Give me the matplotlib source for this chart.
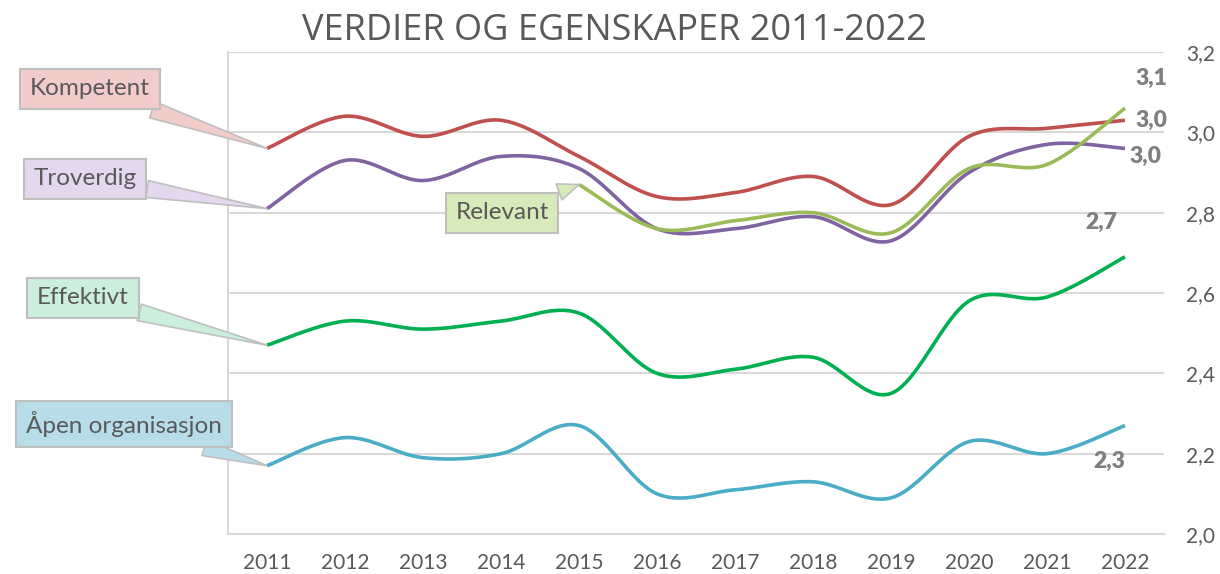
import numpy as np
import matplotlib
matplotlib.use("Agg")
import matplotlib.pyplot as plt

plt.rcParams['font.family'] = ['Lato', 'DejaVu Sans']

# Data
years = ["2011", "2012", "2013", "2014", "2015", "2016",
         "2017", "2018", "2019", "2020", "2021", "2022"]
kompetent = [2.96, 3.04, 2.99, 3.03, 2.94, 2.84, 2.85, 2.89, 2.82, 2.99, 3.01, 3.03]
troverdig = [2.81, 2.93, 2.88, 2.94, 2.91, 2.76, 2.76, 2.79, 2.73, 2.90, 2.97, 2.96]
relevant = [np.nan, np.nan, np.nan, np.nan, 2.87, 2.76, 2.78, 2.80, 2.75, 2.91, 2.92, 3.06]
effektivt = [2.47, 2.53, 2.51, 2.53, 2.55, 2.40, 2.41, 2.44, 2.35, 2.58, 2.59, 2.69]
apen = [2.17, 2.24, 2.19, 2.20, 2.27, 2.10, 2.11, 2.13, 2.09, 2.23, 2.20, 2.27]

names = ["Kompetent", "Troverdig", "Relevant", "Effektivt", "Åpen organisasjon"]
series = [kompetent, troverdig, relevant, effektivt, apen]
colors = ["#C0504D", "#8064A2", "#9BBB59", "#00B050", "#4BACC6"]
box_colors = ["#F2CBCB", "#E4D8EE", "#D7EAB9", "#CCEEDC", "#B7DEE8"]


def smooth(x, y, n=30):
    # Excel-style smoothed line: cubic Bezier with Catmull-Rom control points
    x = np.asarray(x, float)
    y = np.asarray(y, float)
    px = np.concatenate([[x[0]], x, [x[-1]]])
    py = np.concatenate([[y[0]], y, [y[-1]]])
    t = np.linspace(0, 1, n)
    xs, ys = [], []
    for i in range(1, len(px) - 2):
        p0 = np.array([px[i], py[i]])
        p3 = np.array([px[i + 1], py[i + 1]])
        c1 = p0 + (p3 - np.array([px[i - 1], py[i - 1]])) / 6
        c2 = p3 - (np.array([px[i + 2], py[i + 2]]) - p0) / 6
        b = ((1 - t) ** 3)[:, None] * p0 + (3 * (1 - t) ** 2 * t)[:, None] * c1 \
            + (3 * (1 - t) * t ** 2)[:, None] * c2 + (t ** 3)[:, None] * p3
        xs.append(b[:, 0])
        ys.append(b[:, 1])
    return np.concatenate(xs), np.concatenate(ys)


fig = plt.figure(figsize=(12.2, 5.74), dpi=100)
ax = fig.add_axes([228 / 1220, 1 - 534 / 574, (1164 - 228) / 1220, (534 - 52) / 574])

xi = np.arange(len(years))
for vals, c in zip(series, colors):
    v = np.array(vals, float)
    ok = ~np.isnan(v)
    sx, sy = smooth(xi[ok], v[ok])
    ax.plot(sx, sy, color=c, lw=2.6, solid_capstyle='butt', zorder=3)

ax.set_xlim(-0.5, 11.5)
ax.set_ylim(2.0, 3.2)
ax.set_yticks(np.arange(2.0, 3.21, 0.2))
ax.set_yticklabels([f"{v:.1f}".replace('.', ',') for v in np.arange(2.0, 3.21, 0.2)])
ax.yaxis.tick_right()
ax.set_xticks(xi)
ax.set_xticklabels(years)
ax.tick_params(axis='y', length=0, pad=16, labelsize=15, labelcolor='#595959')
ax.tick_params(axis='x', length=0, pad=14, labelsize=15, labelcolor='#595959')
ax.grid(axis='y', color='#D9D9D9', lw=1.5)
ax.set_axisbelow(True)
for s in ['top', 'right']:
    ax.spines[s].set_visible(False)
ax.spines['left'].set_color('#D9D9D9')
ax.spines['left'].set_linewidth(1.5)
ax.spines['bottom'].set_color('#D9D9D9')
ax.spines['bottom'].set_linewidth(1.5)

fig.text(614 / 1220, 1 - 31 / 574, "VERDIER OG EGENSKAPER 2011-2022", ha='center', va='center',
         fontsize=26, family=['Open Sans', 'DejaVu Sans'], color='#595959')


# callout labels (pixel positions of the box centres)
def px2data(px, py):
    return (px - 267) / 78, 2.0 + (534 - py) / 401.5


callouts = [(90, 89, 0), (85, 179, 0), (502, 213, 4), (83, 298, 0), (124, 424, 0)]
for (bx, by, idx), name, vals, fc in zip(callouts, names, series, box_colors):
    tx, ty = px2data(bx, by)
    ax.annotate(name, xy=(idx, vals[idx]), xytext=(tx, ty), ha='center', va='center',
                fontsize=17.5, color='#595959', annotation_clip=False, zorder=5,
                bbox=dict(boxstyle='square,pad=0.4', fc=fc, ec='#BFBFBF', lw=1.5),
                arrowprops=dict(arrowstyle='wedge,tail_width=0.7', fc=fc, ec='#BFBFBF',
                                lw=1.2, shrinkA=0, shrinkB=0))

# end value labels (offsets in pixels from the 2022 point)
offsets = [(26, 0), (20, -8), (26, 30), (-24, 34), (-16, -36)]
for vals, (dx, dy) in zip(series, offsets):
    ax.annotate(f"{vals[-1]:.1f}".replace('.', ','), xy=(11, vals[-1]), xytext=(dx, dy),
                textcoords='offset pixels', ha='center', va='center', fontsize=16.5,
                fontweight='heavy', color='#7F7F7F', annotation_clip=False, zorder=6)

fig.savefig("out.png", dpi=100)
